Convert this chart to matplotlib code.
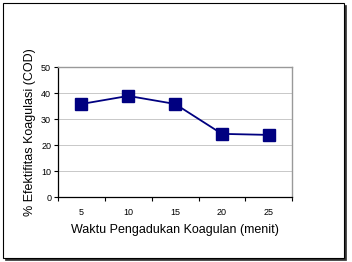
import matplotlib.pyplot as plt
import matplotlib.patches as patches
import numpy as np

plt.rcParams['font.family'] = ['Liberation Sans', 'DejaVu Sans']

waktu = ['5', '10', '15', '20', '25']
efektifitas = [35.8, 38.9, 35.8, 24.3, 23.9]

fig = plt.figure(figsize=(3.52, 2.62), dpi=100)
ax = fig.add_axes([0.165, 0.248, 0.665, 0.496])

x = np.arange(len(waktu))
ax.plot(x, efektifitas, color='#000080', linewidth=1.3,
        marker='s', markersize=8.5, markerfacecolor='#000080',
        markeredgecolor='#000080')

ax.set_xlim(-0.5, len(waktu) - 0.5)
ax.set_ylim(0, 50)
ax.set_yticks(range(0, 51, 10))
ax.set_xticks(np.arange(-0.5, len(waktu), 1.0))
ax.set_xticklabels([])
ax.set_xticks(x, minor=True)
ax.set_xticklabels(waktu, minor=True)
ax.tick_params(axis='x', which='minor', length=0, pad=8, labelsize=6.5)
ax.tick_params(axis='x', which='major', length=3, width=0.8, direction='out')
ax.tick_params(axis='y', length=3, width=0.8, direction='out', labelsize=6.5, pad=2)

ax.yaxis.grid(True, color='#c8c8c8', linewidth=0.7)
ax.set_axisbelow(True)
for s in ['top', 'right']:
    ax.spines[s].set_color('#999999')
    ax.spines[s].set_linewidth(1.0)
for s in ['left', 'bottom']:
    ax.spines[s].set_color('black')
    ax.spines[s].set_linewidth(0.9)

ax.set_xlabel('Waktu Pengadukan Koagulan (menit)', fontsize=9, labelpad=5)
ax.set_ylabel('% Efektifitas Koagulasi (COD)', fontsize=9, labelpad=4)

# outer frame with shadow
fig.patches.append(patches.Rectangle((5 / 352, 1 - 260 / 262), 341 / 352, 255 / 262,
                                     transform=fig.transFigure, fill=True,
                                     facecolor='#333333', edgecolor='#333333',
                                     linewidth=0.5, zorder=-2))
fig.patches.append(patches.Rectangle((3 / 352, 1 - 258 / 262), 341 / 352, 255 / 262,
                                     transform=fig.transFigure, fill=True,
                                     facecolor='white', edgecolor='black',
                                     linewidth=0.8, zorder=-1))

fig.savefig('out.png', dpi=100)
